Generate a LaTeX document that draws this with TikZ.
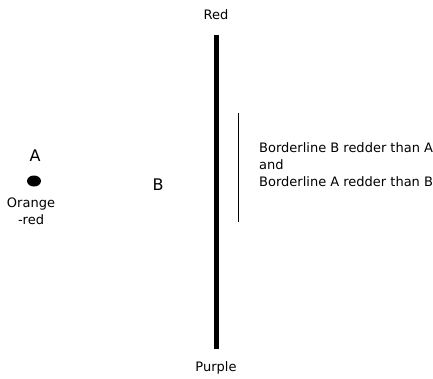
\documentclass[tikz,border=0pt]{standalone}
\usepackage{fontspec}
\setmainfont{DejaVu Sans}
\usetikzlibrary{shapes.geometric}
\begin{document}
\begin{tikzpicture}[x=1pt,y=-1pt,
  lbl/.style={inner sep=0pt,font=\fontsize{13}{17}\selectfont},
  big/.style={inner sep=0pt,font=\fontsize{16}{18}\selectfont}]
\useasboundingbox (0,0) rectangle (433,378);
\coordinate (ltop) at (216,35);
\coordinate (lbot) at (216,349);
\draw[line width=5pt] (ltop) -- (lbot);
\node[lbl] (red) at (216,15) {Red};
\node[lbl] (purple) at (216,368) {Purple};
\coordinate (ttop) at (238,113);
\coordinate (tbot) at (238,222);
\draw[line width=1pt] (ttop) -- (tbot);
\node[lbl,anchor=west,align=left] (txt) at (259,165) {Borderline B redder than A\\and\\Borderline A redder than B};
\node[big] (A) at (35,156) {A};
\node[ellipse,fill=black,minimum width=14pt,minimum height=11pt,inner sep=0pt] (dot) at (34,181) {};
\node[lbl,align=center] (or) at (31,211) {Orange\\-red};
\node[big] (B) at (158,185) {B};
\end{tikzpicture}
\end{document}
